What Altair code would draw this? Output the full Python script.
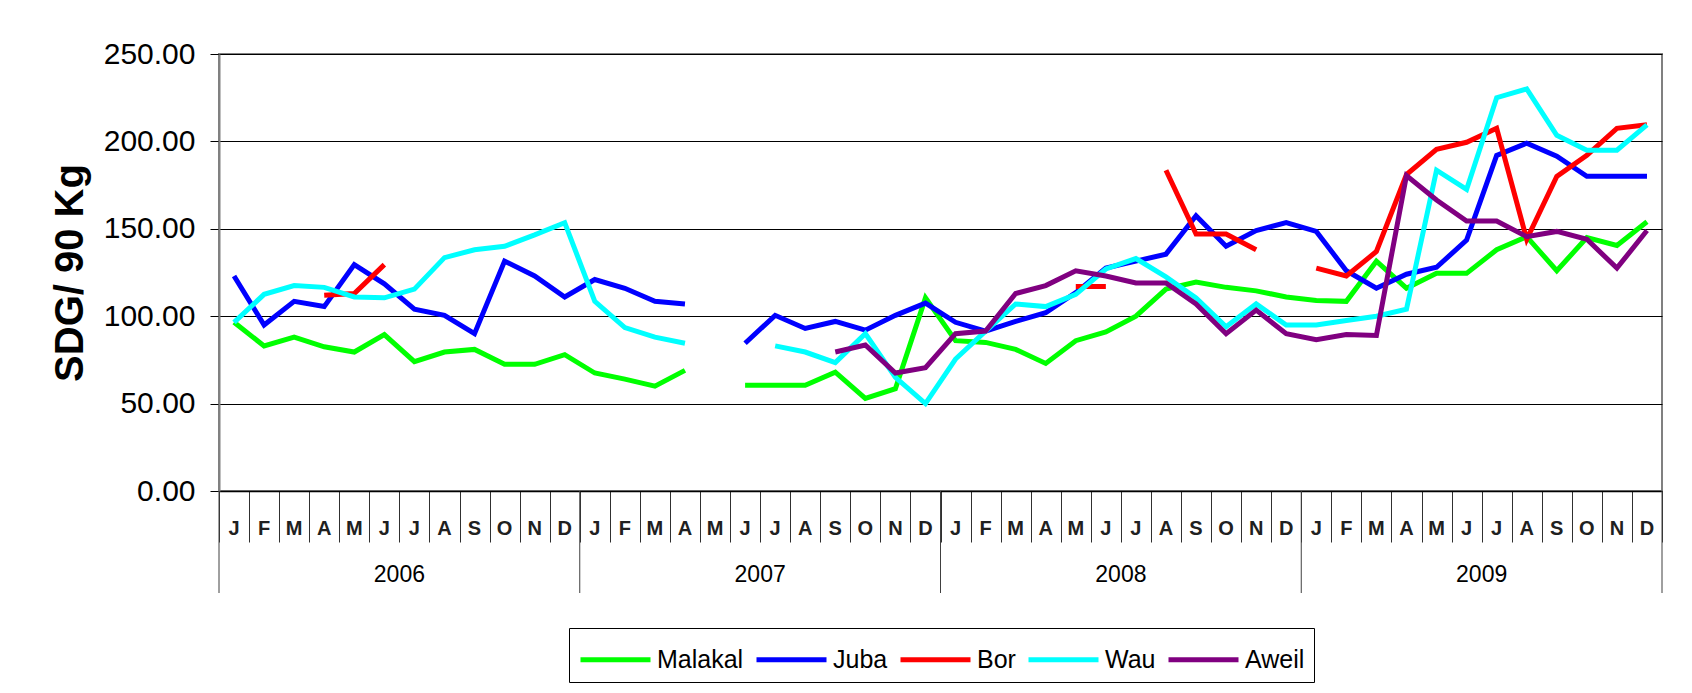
import altair as alt
import pandas as pd

N = None

# --- data ---
month_letters = ["J", "F", "M", "A", "M", "J", "J", "A", "S", "O", "N", "D"]
years = ["2006", "2007", "2008", "2009"]
series_names = ["Malakal", "Juba", "Bor", "Wau", "Aweil"]
series_colors = ["#00FF00", "#0000FF", "#FF0000", "#00FFFF", "#800080"]

malakal = [96.5, 83, 88, 82.5, 79.5, 89.5, 74, 79.5, 81, 72.5, 72.5, 78,
           67.5, 64, 60, 69, N, 60.5, 60.5, 60.5, 68, 53, 58.5, 110.5,
           86, 85, 81, 73, 86, 91, 100, 115.5, 119.5, 116.5, 114.5, 111,
           109, 108.5, 131.5, 116, 124.5, 124.5, 138, 145.5, 126, 145, 140.5, 154]

juba = [123, 95, 108.5, 105.5, 129.5, 118.5, 104, 100.5, 90, 131.5, 123, 111,
        121, 116, 108.5, 107, N, 84.5, 100.5, 93, 97, 92, 100.5, 107.5,
        96.5, 91.5, 97, 102, 113.5, 127.5, 131.5, 135.5, 157.5, 140, 149, 153.5,
        148.5, 126, 116, 124, 128, 143.5, 192, 199, 191.5, 180, 180, 180]

bor = [N, N, N, 112, 113, 129.5, N, N, N, N, N, N,
       N, N, N, N, N, N, N, N, N, N, N, N,
       N, N, N, N, 117, 117, N, 183.5, 147, 147, 138, N,
       127.5, 123, 137, 181, 195.5, 199.5, 207.5, 144, 180, 192, 207.5, 209.5]

wau = [96.5, 112.5, 117.5, 116.5, 111, 110.5, 115.5, 133.5, 138, 140, 146.5, 153.5,
       108.5, 93.5, 88, 84.5, N, N, 83, 79.5, 73.5, 90, 65, 50,
       75.5, 91.5, 107, 105.5, 112.5, 127, 133, 122.5, 110.5, 94, 107, 95,
       95, 97.5, 100, 104, 183.5, 172.5, 225, 230, 203.5, 195, 195, 209.5]

aweil = [N, N, N, N, N, N, N, N, N, N, N, N,
         N, N, N, N, N, N, N, N, 79.5, 83.5, 67.5, 70.5,
         90, 91.5, 113, 117.5, 126, 123, 119, 119, 107, 90, 103.5, 90,
         86.5, 89.5, 89, 180.5, 166.5, 154.5, 154.5, 145.5, 148.5, 144, 127.5, 149]

y_ticks = [0, 50, 100, 150, 200, 250]

# --- tables ---
rows = []
for name, vals in zip(series_names, [malakal, juba, bor, wau, aweil]):
    for i, v in enumerate(vals):
        rows.append({"series": name, "idx": i + 0.5, "price": v})
df = pd.DataFrame(rows)

mdf = pd.DataFrame({"idx": [i + 0.5 for i in range(48)], "label": month_letters * 4})
ydf = pd.DataFrame({"idx": [12 * k + 6 for k in range(4)], "label": years})
bdf = pd.DataFrame({"idx": [12 * k for k in range(5)]})

W, H = 1443, 437
FONT = "Liberation Sans"

X = alt.X(
    "idx:Q",
    scale=alt.Scale(domain=[0, 48], nice=False, zero=False),
    axis=alt.Axis(values=list(range(49)), labels=False, tickSize=51, tickColor="#303030",
                  tickWidth=1, domainColor="black", domainWidth=1.5, grid=False, title=None),
)

lines = alt.Chart(df).mark_line(strokeWidth=5).encode(
    x=X,
    y=alt.Y(
        "price:Q",
        scale=alt.Scale(domain=[0, 250], nice=False),
        axis=alt.Axis(values=y_ticks, format=".2f", labelFont=FONT, labelFontSize=30,
                      labelColor="black", labelPadding=15, tickSize=9, tickColor="black",
                      tickWidth=1, domainColor="#808080", domainWidth=2, grid=True,
                      gridColor="black", gridWidth=1, title="SDG/ 90 Kg", titleFont=FONT,
                      titleFontSize=40, titleFontWeight="bold", titleColor="black",
                      titleAngle=270, titleAlign="center", titleBaseline="alphabetic",
                      titleX=-137, titleY=H / 2),
    ),
    color=alt.Color(
        "series:N",
        scale=alt.Scale(domain=series_names, range=series_colors),
        legend=alt.Legend(title=None, orient="none", legendX=350, legendY=574,
                          direction="horizontal", columns=5,
                          symbolType="M-1.75,0H1.75", symbolSize=1600, symbolStrokeWidth=5,
                          symbolOffset=15,
                          labelFont=FONT, labelFontSize=25, labelColor="black",
                          labelOffset=19, columnPadding=2, padding=9,
                          strokeColor="black", fillColor="white", labelLimit=0),
    ),
)

month_text = alt.Chart(mdf).mark_text(font=FONT, fontSize=20, fontWeight="bold",
                                      baseline="middle", align="center", color="#202020").encode(
    x=X, y=alt.value(H + 38), text="label:N")

year_rules = alt.Chart(bdf).mark_rule(color="#404040", strokeWidth=1).encode(
    x=X, y=alt.value(H), y2=alt.value(H + 102))

year_text = alt.Chart(ydf).mark_text(font=FONT, fontSize=23, baseline="middle",
                                     align="center", color="black").encode(
    x=X, y=alt.value(H + 84), text="label:N")

chart = alt.layer(year_rules, lines, month_text, year_text).properties(
    width=W, height=H,
    autosize=alt.AutoSizeParams(type="none"),
    padding={"left": 211, "top": 46, "right": 20, "bottom": 192},
    background="white",
).configure_view(stroke="#808080", strokeWidth=2)

chart.save("out.html", embed_options={"renderer": "svg", "actions": False})
